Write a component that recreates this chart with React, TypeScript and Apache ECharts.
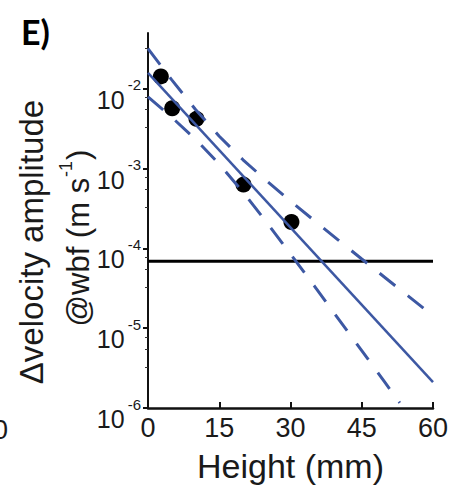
import React, { useEffect, useRef } from "react";
import * as echarts from "echarts";

// ---- data ----
const heights = [2.7, 5.1, 10.2, 20.1, 30.2]; // mm
const amplitudes = [0.0143, 0.0057, 0.0042, 6.3e-4, 2.14e-4]; // m s^-1

const fitHeights = [0, 60];
const fitValues = [0.0158, 2.11e-6];

const upperHeights = [0, 5, 10, 15, 20, 25, 30, 35, 40, 45, 50, 55, 60];
const upperValues = [0.0318, 0.01294, 0.00551, 0.00254, 0.00129, 7.0e-4, 3.92e-4, 2.23e-4, 1.28e-4, 7.36e-5, 4.26e-5, 2.47e-5, 1.43e-5];

const lowerHeights = [0, 5, 10, 15, 20, 25, 30, 35, 40, 45, 50, 53];
const lowerValues = [0.0079, 0.00439, 0.00233, 0.00114, 5.07e-4, 2.11e-4, 8.5e-5, 3.39e-5, 1.33e-5, 5.24e-6, 2.05e-6, 1.16e-6];

const thresholdHeights = [0, 60];
const thresholdValue = 6.9e-5;

const xTickValues = [0, 15, 30, 45, 60];
const yTickValues = [1e-6, 1e-5, 1e-4, 1e-3, 1e-2];

const FONT = "'Liberation Sans', Arial, sans-serif";
const BLUE = "#3d58a3";

export default function App() {
  const ref = useRef<HTMLDivElement>(null);

  useEffect(() => {
    document.body.style.margin = "0";
    if (!ref.current) return;
    const chart = echarts.init(ref.current, null, { renderer: "svg" });

    const zip = (xs: number[], ys: number[]) => xs.map((x, i) => [x, ys[i]]);

    chart.setOption({
      animation: false,
      backgroundColor: "#ffffff",
      grid: { left: 148, right: 21, top: 33, bottom: 79, containLabel: false },
      xAxis: {
        type: "value",
        min: xTickValues[0],
        max: xTickValues[xTickValues.length - 1],
        interval: 15,
        axisLine: { show: true, lineStyle: { color: "#111", width: 2.5 } },
        axisTick: { show: true, inside: true, length: 6, lineStyle: { color: "#111", width: 2 } },
        splitLine: { show: false },
        axisLabel: { fontFamily: FONT, fontSize: 27, color: "#1a1a1a", margin: 6 },
        name: "Height (mm)",
        nameLocation: "middle",
        nameGap: 41,
        nameTextStyle: { fontFamily: FONT, fontSize: 34, color: "#1a1a1a" },
      },
      yAxis: {
        type: "log",
        logBase: 10,
        min: 1e-6,
        max: 0.05,
        axisLine: { show: true, lineStyle: { color: "#111", width: 2 } },
        axisTick: {
          show: true,
          inside: false,
          length: 5,
          lineStyle: { color: "#111", width: 2 },
          customValues: yTickValues,
        },
        minorTick: { show: true, splitNumber: 4, length: 3, lineStyle: { color: "#333", width: 1 } },
        splitLine: { show: false },
        axisLabel: {
          customValues: yTickValues,
          margin: 7,
          formatter: (v: number) => {
            const e = Math.round(Math.log10(v));
            return "{b|10}{s|" + e + "}";
          },
          rich: {
            b: { fontFamily: FONT, fontSize: 25, lineHeight: 25, color: "#1a1a1a", verticalAlign: "top", padding: [11, 0, 0, 0] },
            s: { fontFamily: FONT, fontSize: 15, lineHeight: 15, color: "#1a1a1a", verticalAlign: "top", padding: [1, 0, 0, 3] },
          },
        },
      },
      series: [
        {
          type: "scatter",
          data: zip(heights, amplitudes),
          symbol: "circle",
          symbolSize: 16,
          itemStyle: { color: "#000", opacity: 1 },
          z: 2,
        },
        {
          type: "line",
          data: zip(thresholdHeights, [thresholdValue, thresholdValue]),
          showSymbol: false,
          lineStyle: { color: "#000", width: 3 },
          z: 3,
        },
        {
          type: "line",
          data: zip(fitHeights, fitValues),
          showSymbol: false,
          lineStyle: { color: BLUE, width: 2.5 },
          z: 4,
        },
        {
          type: "line",
          data: zip(upperHeights, upperValues),
          showSymbol: false,
          lineStyle: { color: BLUE, width: 3, type: [20, 16] },
          z: 4,
        },
        {
          type: "line",
          data: zip(lowerHeights, lowerValues),
          showSymbol: false,
          lineStyle: { color: BLUE, width: 3, type: [20, 16] },
          z: 4,
        },
      ],
      graphic: [
        {
          type: "text",
          left: 21,
          top: 14,
          style: { text: "E)", fontFamily: "Lato, 'Open Sans', sans-serif", fontWeight: "bold", fontSize: 34, fill: "#000" },
        },
        {
          type: "text",
          x: 31,
          y: 242,
          rotation: Math.PI / 2,
          style: {
            text: "Δvelocity amplitude",
            fontFamily: FONT,
            fontSize: 33,
            fill: "#1a1a1a",
            align: "center",
            verticalAlign: "middle",
          },
        },
        {
          type: "text",
          x: 72,
          y: 238,
          rotation: Math.PI / 2,
          style: {
            text: "{a|@wbf (m s}{s|-1}{a|)}",
            align: "center",
            verticalAlign: "middle",
            rich: {
              a: { fontFamily: FONT, fontSize: 31, lineHeight: 31, fill: "#1a1a1a", verticalAlign: "top", padding: [6, 0, 0, 0] },
              s: { fontFamily: FONT, fontSize: 18, lineHeight: 18, fill: "#1a1a1a", verticalAlign: "top", padding: [0, 1, 0, 1] },
            },
          },
        },
        {
          type: "text",
          x: -7,
          y: 430,
          style: { text: "0", fontFamily: FONT, fontSize: 27, fill: "#1a1a1a", align: "left", verticalAlign: "middle" },
        },
      ],
    });

    return () => chart.dispose();
  }, []);

  return <div ref={ref} style={{ width: 454, height: 488 }} />;
}
